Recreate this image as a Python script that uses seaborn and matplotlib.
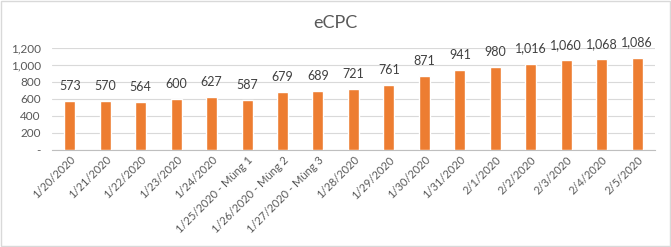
import matplotlib
matplotlib.use("Agg")
import matplotlib.pyplot as plt
import seaborn as sns
import pandas as pd
import numpy as np
from matplotlib.ticker import FuncFormatter, FixedLocator

categories = ["1/20/2020", "1/21/2020", "1/22/2020", "1/23/2020", "1/24/2020",
              "1/25/2020 - Mùng 1", "1/26/2020 - Mùng 2", "1/27/2020 - Mùng 3",
              "1/28/2020", "1/29/2020", "1/30/2020", "1/31/2020", "2/1/2020",
              "2/2/2020", "2/3/2020", "2/4/2020", "2/5/2020"]
values = [573, 570, 564, 600, 627, 587, 679, 689, 721, 761, 871, 941, 980,
          1016, 1060, 1068, 1086]
title = "eCPC"

sns.set_style("white")
plt.rcParams['font.family'] = ['Lato', 'DejaVu Sans']

df = pd.DataFrame({"cat": categories, "val": values})

fig = plt.figure(figsize=(6.71, 2.47), dpi=100)
ax = fig.add_axes([0.0775, 0.393, 0.976 - 0.0775, 0.806 - 0.393])
sns.barplot(data=df, x="cat", y="val", color="#ED7D31", width=0.31,
            saturation=1, ax=ax, zorder=3)

ax.set_ylim(0, 1200)
ax.set_xlim(-0.5, len(categories) - 0.5)
ax.set_yticks(np.arange(0, 1201, 200))
ax.yaxis.set_major_formatter(FuncFormatter(lambda v, p: "-" if v == 0 else f"{int(v):,}"))
ax.grid(axis="y", color="#D9D9D9", linewidth=0.8, zorder=0)
ax.set_axisbelow(True)
for s in ["top", "right", "left"]:
    ax.spines[s].set_visible(False)
ax.spines["bottom"].set_color("#BFBFBF")
ax.spines["bottom"].set_linewidth(0.8)

ax.tick_params(axis="y", length=0, labelsize=8.5, labelcolor="#595959", pad=8)
ax.tick_params(axis="x", which="major", length=0, labelsize=8, labelcolor="#595959", pad=3)
ax.set_xticks(range(len(categories)))
ax.set_xticklabels(categories, rotation=45, ha="right", rotation_mode="anchor")
ax.xaxis.set_minor_locator(FixedLocator(np.arange(-0.5, len(categories), 1.0)))
ax.tick_params(axis="x", which="minor", length=4, color="#BFBFBF", width=0.8)
ax.set_xlabel("")
ax.set_ylabel("")

for i, v in enumerate(values):
    ax.annotate(f"{v:,}", (i, v), xytext=(0, 6.5), textcoords="offset points",
                ha="center", va="bottom", fontsize=9, color="#404040")

fig.text(0.5, 0.905, title, ha="center", va="center", fontsize=13, color="#595959")

border = plt.Rectangle((0.002, 0.004), 0.996, 0.992, transform=fig.transFigure,
                       fill=False, edgecolor="#D9D9D9", linewidth=1)
fig.patches.append(border)

fig.savefig("out.png", dpi=100, facecolor="white")
